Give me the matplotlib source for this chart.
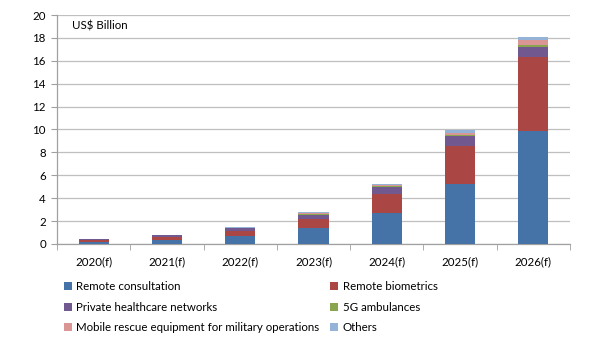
import matplotlib
matplotlib.use("Agg")
import matplotlib.pyplot as plt
import numpy as np

plt.rcParams['font.family'] = ['Lato', 'DejaVu Sans']

years = ["2020(f)", "2021(f)", "2022(f)", "2023(f)", "2024(f)", "2025(f)", "2026(f)"]
remote_consultation = [0.20, 0.38, 0.70, 1.35, 2.70, 5.20, 9.90]
remote_biometrics = [0.12, 0.23, 0.40, 0.82, 1.67, 3.35, 6.45]
private_networks = [0.10, 0.15, 0.26, 0.38, 0.60, 0.90, 0.87]
ambulances_5g = [0.01, 0.02, 0.03, 0.08, 0.08, 0.07, 0.12]
mobile_rescue = [0.01, 0.02, 0.04, 0.07, 0.10, 0.20, 0.45]
others = [0.01, 0.02, 0.03, 0.08, 0.10, 0.25, 0.30]

series = [
    ("Remote consultation", remote_consultation, "#4572A7"),
    ("Remote biometrics", remote_biometrics, "#AA4643"),
    ("Private healthcare networks", private_networks, "#71588F"),
    ("5G ambulances", ambulances_5g, "#89A54E"),
    ("Mobile rescue equipment for military operations", mobile_rescue, "#D99694"),
    ("Others", others, "#95B3D7"),
]

fig = plt.figure(figsize=(6, 3.5), dpi=100)
ax = fig.add_axes([0.095, 0.303, 0.855, 0.654])

x = np.arange(len(years))
bottom = np.zeros(len(years))
handles = {}
for name, vals, col in series:
    b = ax.bar(x, vals, 0.41, bottom=bottom, color=col, label=name, zorder=3)
    handles[name] = b
    bottom += np.array(vals)

ax.set_xlim(-0.5, len(years) - 0.5)
ax.set_ylim(0, 20)
ax.set_yticks(np.arange(0, 21, 2))
ax.yaxis.grid(True, color="#BFBFBF", linewidth=0.9, zorder=0)
ax.set_axisbelow(True)

ax.set_xticks(x)
ax.set_xticklabels(years, fontsize=8.3)
ax.set_xticks(np.arange(-0.5, len(years), 1.0), minor=True)
ax.tick_params(axis='x', which='major', length=0, pad=9)
ax.tick_params(axis='x', which='minor', length=4, color="#A0A0A0", direction='out')
ax.tick_params(axis='y', labelsize=8.3, length=4, color="#A0A0A0", pad=4)

for s in ["top", "right"]:
    ax.spines[s].set_visible(False)
for s in ["left", "bottom"]:
    ax.spines[s].set_color("#A0A0A0")
    ax.spines[s].set_linewidth(0.9)

ax.text(0.03, 0.975, "US$ Billion", transform=ax.transAxes, fontsize=8.3,
        va="top", ha="left")

order = ["Remote consultation", "Private healthcare networks",
         "Mobile rescue equipment for military operations",
         "Remote biometrics", "5G ambulances", "Others"]
fig.legend([handles[n] for n in order], order, ncol=2, loc="upper left",
           bbox_to_anchor=(0.106, 0.196), frameon=False, fontsize=8.3,
           handlelength=0.7, handleheight=0.7, handletextpad=0.4,
           columnspacing=0.9, labelspacing=0.8, borderpad=0, borderaxespad=0)

fig.savefig("out.png", dpi=100)
